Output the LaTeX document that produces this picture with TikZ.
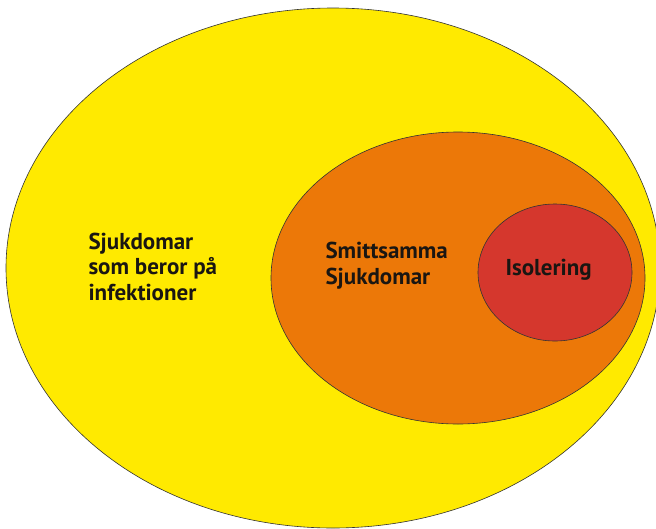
\documentclass[tikz,border=0pt]{standalone}
\usepackage{fontspec}
\setmainfont{PT Sans}
\usetikzlibrary{shapes.geometric}

\definecolor{gul}{RGB}{255,234,0}
\definecolor{orange}{RGB}{236,120,8}
\definecolor{rod}{RGB}{213,55,45}
\definecolor{text}{RGB}{26,22,18}

\tikzset{
  ring/.style={ellipse, draw=black!80, line width=0.6pt, inner sep=0pt},
  label/.style={align=left, anchor=base west, text=text, font=\fontsize{23}{25.5}\selectfont\bfseries}
}

\begin{document}
\begin{tikzpicture}[x=1pt, y=-1pt]
\useasboundingbox (0,0) rectangle (656,528);

\node[ring, fill=gul, minimum width=654pt, minimum height=520pt] (alla) at (333,268) {};
\node[ring, fill=orange, minimum width=374pt, minimum height=292pt] (smitta) at (458,278) {};
\node[ring, fill=rod, minimum width=154pt, minimum height=137pt] (isol) at (555,272.5) {};

% baseline of the last line
\node[label] (t1) at (85,300) {Sjukdomar\\som beror på\\infektioner};
\node[label] (t2) at (322,284) {Smittsamma\\Sjukdomar};
\node[label] (t3) at (502,275) {Isolering};
\end{tikzpicture}
\end{document}
